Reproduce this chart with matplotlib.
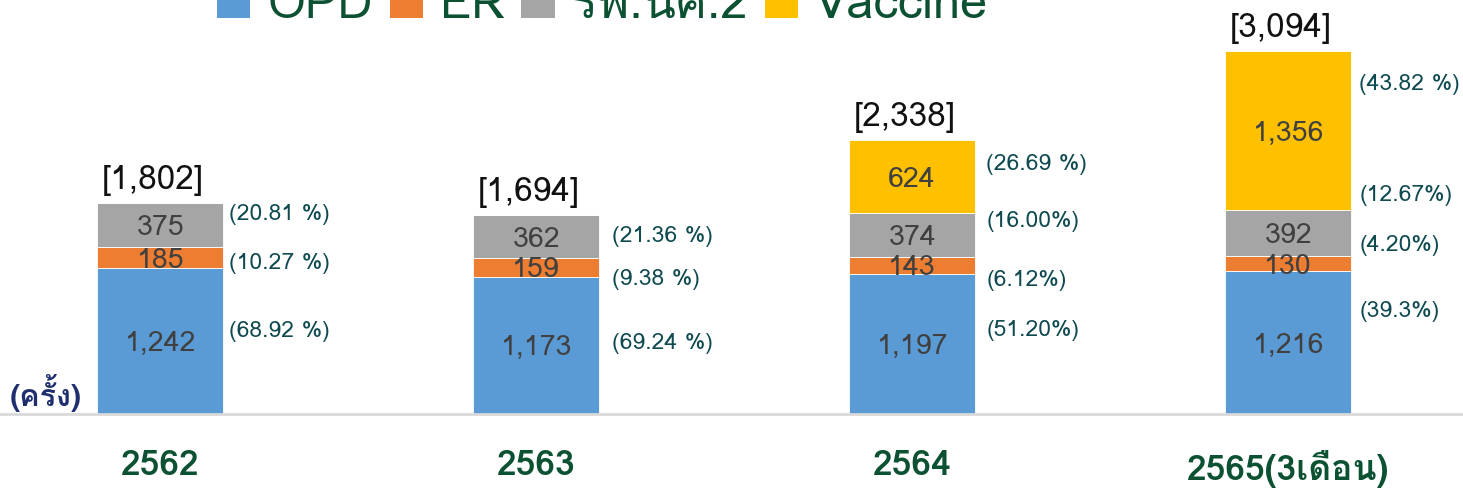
import matplotlib
matplotlib.use("Agg")
import matplotlib.pyplot as plt
from matplotlib import font_manager
from matplotlib.patches import Patch

# ---------------- data ----------------
years = ["2562", "2563", "2564", "2565(3เดือน)"]
series_names = ["OPD", "ER", "รพ.นศ.2", "Vaccine"]
opd = [1242, 1173, 1197, 1216]
er = [185, 159, 143, 130]
hosp2 = [375, 362, 374, 392]
vaccine = [0, 0, 624, 1356]
totals = ["[1,802]", "[1,694]", "[2,338]", "[3,094]"]
pct_opd = ["(68.92 %)", "(69.24 %)", "(51.20%)", "(39.3%)"]
pct_er = ["(10.27 %)", "(9.38 %)", "(6.12%)", "(4.20%)"]
pct_hosp2 = ["(20.81 %)", "(21.36 %)", "(16.00%)", "(12.67%)"]
pct_vaccine = ["", "", "(26.69 %)", "(43.82 %)"]
unit_label = "(ครั้ง)"

colors = ["#5B9BD5", "#ED7D31", "#A5A5A5", "#FFC000"]

# ---------------- fonts ----------------
def find_thai_family():
    try:
        from fontTools.ttLib import TTFont
    except Exception:
        return None
    for f in font_manager.fontManager.ttflist:
        try:
            tt = TTFont(f.fname, fontNumber=0, lazy=True)
            cmap = tt.getBestCmap()
            if cmap and 0x0E04 in cmap and 0x0E23 in cmap:
                return f.name
        except Exception:
            continue
    return None

thai = find_thai_family()
fams = ([thai] if thai else []) + ["Noto Sans", "DejaVu Sans"]
plt.rcParams["font.family"] = fams

# ---------------- figure ----------------
fig = plt.figure(figsize=(14.63, 4.88), dpi=100)
ax = fig.add_axes([0, 74 / 488, 1, 414 / 488])

x = list(range(len(years)))
width = 0.335
series = [opd, er, hosp2, vaccine]
bottoms = [0] * len(years)
bar_containers = []
for vals, col, name in zip(series, colors, series_names):
    bc = ax.bar(x, vals, width, bottom=bottoms, color=col, label=name,
                edgecolor="white", linewidth=0.6, zorder=2)
    bar_containers.append((bc, list(bottoms), vals))
    bottoms = [b + v for b, v in zip(bottoms, vals)]

ax.set_xlim(-0.426, 3.465)
ax.set_ylim(0, 3532)

# value labels in segment centres
for bc, bots, vals in bar_containers:
    for xi, b, v in zip(x, bots, vals):
        if v <= 0:
            continue
        ax.text(xi, b + v / 2, f"{v:,}", ha="center", va="center_baseline",
                fontsize=20.5, color="#404040", zorder=3)

# totals above bars
for xi, tot, t in zip(x, bottoms, totals):
    ax.annotate(t, (xi, tot), xytext=(-5, 5), textcoords="offset points",
                ha="center", va="bottom", fontsize=24, color="#111111")

# percentage labels to the right of bars (pixel offsets from segment centre)
pct_lists = [pct_opd, pct_er, pct_hosp2, pct_vaccine]
dy_px = [
    [10, 2, 13, 31],
    [-6, -12, -15, 18],
    [10, 0, 14, 38],
    [0, 0, 12, 46],
]
dx_px = [6, 13, 11, 8]
for (bc, bots, vals), labels, dys in zip(bar_containers, pct_lists, dy_px):
    for i, (xi, b, v, lab) in enumerate(zip(x, bots, vals, labels)):
        if not lab:
            continue
        ax.annotate(lab, (xi + width / 2, b + v / 2),
                    xytext=(dx_px[i] * 0.72, dys[i] * 0.72),
                    textcoords="offset points", ha="left", va="center",
                    fontsize=16.5, color="#0E4A50")

# axes styling
for s in ["top", "right", "left"]:
    ax.spines[s].set_visible(False)
ax.spines["bottom"].set_color("#D9D9D9")
ax.spines["bottom"].set_linewidth(2)
ax.set_yticks([])
ax.set_xticks(x)
ax.set_xticklabels(years, fontsize=25.5, color="#0B5132", fontweight="bold")
ax.tick_params(axis="x", length=0, pad=26)

ax.text(10 / 1463, 2 / 414, unit_label, transform=ax.transAxes,
        ha="left", va="bottom", fontsize=22, color="#1F2F6E", fontweight="bold")

# legend (partly cut off at top, as in the reference)
handles = [Patch(facecolor=c, edgecolor="none") for c in colors]
fig.legend(handles, series_names, loc="center", bbox_to_anchor=(0.412, 0.988),
           ncol=4, frameon=False, fontsize=35, labelcolor="#0B5132",
           handlelength=0.68, handleheight=0.68, handletextpad=0.35,
           columnspacing=0.35)

fig.savefig("out.png", dpi=100)
